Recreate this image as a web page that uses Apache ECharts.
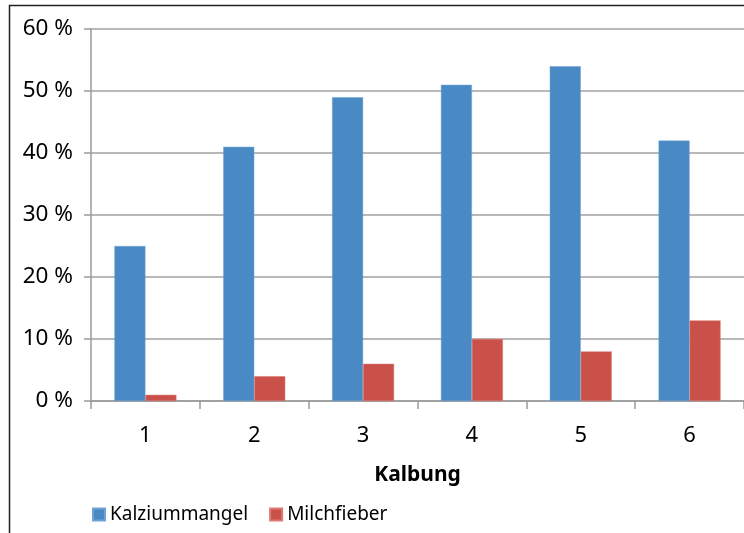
<!DOCTYPE html>
<html>
<head>
<meta charset="utf-8">
<script src="https://cdn.jsdelivr.net/npm/echarts@6/dist/echarts.min.js"></script>
<style>
  html, body { margin: 0; padding: 0; background: #fff; }
  #chart { width: 744px; height: 533px; }
</style>
</head>
<body>
<div id="chart"></div>
<script>
// Kalbung (calving number) categories
const categories = ['1', '2', '3', '4', '5', '6'];
// Share of cows per calving, in percent
const kalziummangel = [25, 41, 49, 51, 54, 42];
const milchfieber = [1, 4, 6, 10, 8, 13];
// Y axis ticks
const yMin = 0, yMax = 60, yStep = 10;

const FONT = '"Noto Sans", "Open Sans", sans-serif';
const chart = echarts.init(document.getElementById('chart'), null, { renderer: 'canvas' });

chart.setOption({
  animation: false,
  backgroundColor: '#ffffff',
  textStyle: { fontFamily: FONT, color: '#000' },
  graphic: [{
    type: 'rect',
    shape: { x: 9.5, y: 5.5, width: 800, height: 600 },
    style: { fill: 'none', stroke: '#222', lineWidth: 1.5 },
    silent: true
  }],
  grid: { left: 91, top: 29, width: 657, height: 372, containLabel: false },
  legend: {
    left: 87, top: 500,
    icon: 'rect', itemWidth: 12, itemHeight: 12, itemGap: 21,
    textStyle: { fontFamily: FONT, fontSize: 19, color: '#000' },
    data: ['Kalziummangel', 'Milchfieber']
  },
  xAxis: {
    type: 'category',
    data: categories,
    name: 'Kalbung',
    nameLocation: 'middle',
    nameGap: 64,
    nameTextStyle: { fontFamily: FONT, fontSize: 21, fontWeight: 'bold', color: '#000' },
    axisLine: { lineStyle: { color: '#999', width: 1.5 } },
    axisTick: { show: true, length: 8, lineStyle: { color: '#999', width: 1.5 } },
    axisLabel: { fontFamily: FONT, fontSize: 22, color: '#000', margin: 24 },
    splitLine: { show: false }
  },
  yAxis: {
    type: 'value',
    min: yMin, max: yMax, interval: yStep,
    axisLine: { show: true, lineStyle: { color: '#999', width: 1.5 } },
    axisTick: { show: true, length: 7, lineStyle: { color: '#999', width: 1.5 } },
    axisLabel: { fontFamily: FONT, fontSize: 22.5, color: '#000', margin: 18, formatter: '{value} %' },
    splitLine: { show: true, lineStyle: { color: '#a0a0a0', width: 1.5 } }
  },
  series: [
    {
      name: 'Kalziummangel', type: 'bar', data: kalziummangel,
      barWidth: 31, barGap: '0%',
      itemStyle: { color: '#4a8ac4', borderColor: '#6fa3d4', borderWidth: 0.5 }
    },
    {
      name: 'Milchfieber', type: 'bar', data: milchfieber,
      barWidth: 31, barGap: '0%',
      itemStyle: { color: '#ca5149', borderColor: '#dd7a73', borderWidth: 0.5 }
    }
  ]
});
</script>
</body>
</html>
